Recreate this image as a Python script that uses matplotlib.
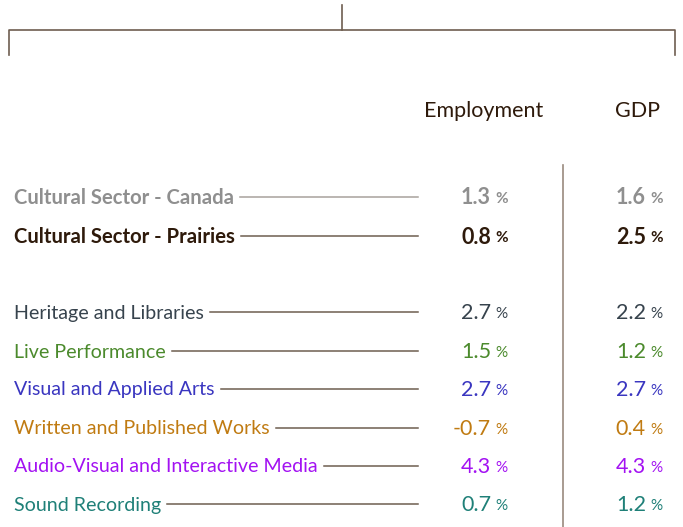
import matplotlib
matplotlib.use("Agg")
import matplotlib.pyplot as plt

plt.rcParams['font.family'] = ['Lato', 'DejaVu Sans']

# Data
categories = ['Cultural Sector - Canada', 'Cultural Sector - Prairies',
              'Heritage and Libraries', 'Live Performance',
              'Visual and Applied Arts', 'Written and Published Works',
              'Audio-Visual and Interactive Media', 'Sound Recording']
employment = [1.3, 0.8, 2.7, 1.5, 2.7, -0.7, 4.3, 0.7]
gdp = [1.6, 2.5, 2.2, 1.2, 2.7, 0.4, 4.3, 1.2]
colors = ['#8f8f8f', '#2e1a0b', '#37434d', '#4b8a2c', '#3a36c0',
          '#c07b12', '#a312f2', '#1f8078']
bold = [True, True, False, False, False, False, False, False]
row_y = [198, 237, 313, 352, 390, 429, 467, 505]

W, H = 683, 527
fig = plt.figure(figsize=(W / 100, H / 100), dpi=100)
ax = fig.add_axes([0, 0, 1, 1])
ax.set_xlim(0, W)
ax.set_ylim(H, 0)
ax.axis('off')

brown = '#6e5e50'
# bracket on top
ax.plot([342, 342], [5, 30], color=brown, lw=1.2)
ax.plot([9, 9, 675, 675], [55, 30, 30, 55], color=brown, lw=1.2)

# column headers
ax.text(484, 111, 'Employment', ha='center', va='center', fontsize=15.5, color='#2e1a0b')
ax.text(638, 111, 'GDP', ha='center', va='center', fontsize=15.5, color='#2e1a0b')

# separator between columns
ax.plot([563, 563], [165, 527], color='#9a8a7e', lw=1.2)

fig.canvas.draw()
renderer = fig.canvas.get_renderer()
inv = ax.transData.inverted()

for name, emp, g, col, b, y in zip(categories, employment, gdp, colors, bold, row_y):
    weight = 'bold' if b else 'normal'
    t = ax.text(14, y, name, ha='left', va='center', fontsize=14.6 if b else 14.1,
                color=col, fontweight=weight)
    bb = t.get_window_extent(renderer=renderer)
    x_end = inv.transform((bb.x1, bb.y0))[0]
    line_col = '#a8a29c' if name == 'Cultural Sector - Canada' else brown
    ax.plot([x_end + 6, 418], [y - 1, y - 1], color=line_col, lw=1.1)

    ax.text(491, y, f'{emp:.1f}', ha='right', va='center', fontsize=15.5,
            color=col, fontweight=weight)
    ax.text(495, y + 1, '%', ha='left', va='center', fontsize=11,
            color=col, fontweight=weight)
    ax.text(646, y, f'{g:.1f}', ha='right', va='center', fontsize=15.5,
            color=col, fontweight=weight)
    ax.text(650, y + 1, '%', ha='left', va='center', fontsize=11,
            color=col, fontweight=weight)

fig.savefig('out.png', dpi=100)
